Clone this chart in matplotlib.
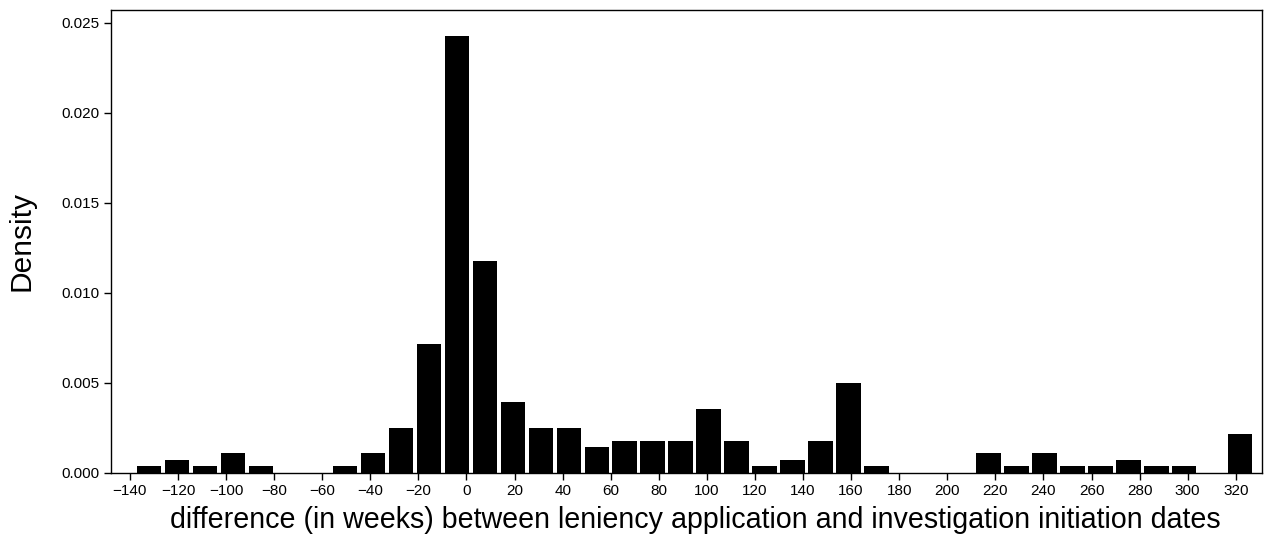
import matplotlib.pyplot as plt
import numpy as np

plt.rcParams['font.family'] = ['Liberation Sans', 'DejaVu Sans']

# Гистограмма: число наблюдений в каждом интервале (40 интервалов)
bin_start = -137.9
bin_width = 11.64
counts = [1, 2, 1, 3, 1, 0, 0, 1, 3, 7,
          20, 68, 33, 11, 7, 7, 4, 5, 5, 5,
          10, 5, 1, 2, 5, 14, 1, 0, 0, 0,
          3, 1, 3, 1, 1, 2, 1, 1, 0, 6]
x_ticks = list(range(-140, 321, 20))
y_ticks = [0.000, 0.005, 0.010, 0.015, 0.020, 0.025]

edges = bin_start + bin_width * np.arange(len(counts) + 1)
centers = (edges[:-1] + edges[1:]) / 2

fig = plt.figure(figsize=(12.71, 5.4), dpi=100)
ax = fig.add_axes([0.0871, 0.1246, 0.9056, 0.8569])

ax.hist(centers, bins=edges, weights=counts, density=True,
        rwidth=0.87, color='black')

ax.set_xlim(-148.0, 330.8)
ax.set_ylim(0, 0.0257)
ax.set_xticks(x_ticks)
ax.set_xticklabels([str(t).replace('-', '\u2212') for t in x_ticks])
ax.set_yticks(y_ticks)
ax.set_yticklabels([f'{t:.3f}' for t in y_ticks])
ax.tick_params(direction='out', length=5, width=1, labelsize=11, pad=3)
for s in ax.spines.values():
    s.set_linewidth(1)

ax.set_xlabel('difference (in weeks) between leniency application and investigation initiation dates',
              fontsize=20.6, labelpad=6)
ax.xaxis.label.set_x(0.508)
ax.set_ylabel('Density', fontsize=21.5, labelpad=19)
ax.yaxis.label.set_y(0.5)

fig.savefig('out.png', dpi=100)
